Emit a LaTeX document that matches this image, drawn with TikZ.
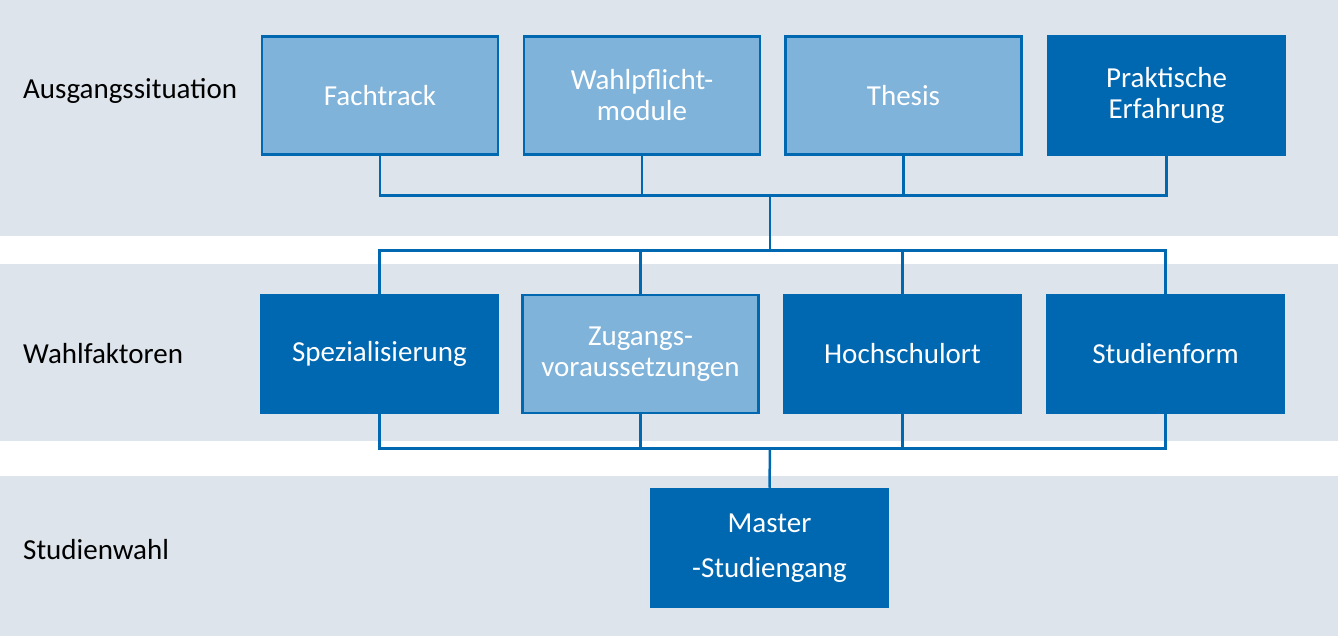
\documentclass[tikz,border=0pt]{standalone}
\usepackage{fontspec}
\setmainfont{Carlito}
\definecolor{dblue}{HTML}{0067B1}
\definecolor{lblue}{HTML}{80B3DA}
\definecolor{band}{HTML}{DDE4EB}
\begin{document}
\begin{tikzpicture}[x=1pt,y=-1pt,
  boxbase/.style={draw=dblue,line width=2.5pt,minimum width=236pt,minimum height=118pt,
    inner sep=0pt,align=center,text=white,font=\fontsize{29}{31}\selectfont},
  lightbox/.style={boxbase,fill=lblue},
  darkbox/.style={boxbase,fill=dblue},
  rowlabel/.style={anchor=west,inner sep=0pt,font=\fontsize{29}{31}\selectfont,text=black},
  conn/.style={draw=dblue,line width=2.5pt}]
\useasboundingbox (0,0) rectangle (1338,636);
\fill[white] (0,0) rectangle (1338,636);
\fill[band] (0,0) rectangle (1338,236);
\fill[band] (0,264) rectangle (1338,441);
\fill[band] (0,476) rectangle (1338,636);
% labels
\node[rowlabel] (l1) at (23,91) {Ausgangssituation};
\node[rowlabel] (l2) at (23,354) {Wahlfaktoren};
\node[rowlabel] (l3) at (23,550) {Studienwahl};
% row 1
\node[lightbox] (fach) at (380,95.5) {Fachtrack};
\node[lightbox] (wahl) at (642,95.5) {Wahlpflicht-\\module};
\node[lightbox] (thes) at (903.5,95.5) {Thesis};
\node[darkbox] (prak) at (1166.5,95.5) {Praktische\\Erfahrung};
% row 2
\node[darkbox] (spez) at (379.5,354) {Spezialisierung};
\node[lightbox] (zug) at (640.5,354) {Zugangs-\\voraussetzungen};
\node[darkbox] (hoch) at (902.5,354) {Hochschulort};
\node[darkbox] (stud) at (1165.5,354) {Studienform};
% row 3
\node[darkbox,font=\fontsize{29}{45}\selectfont] (mast) at (769.5,548) {Master\\-Studiengang};
% junctions
\coordinate (j1) at (770,195.5);
\coordinate (j2) at (770,250.5);
\coordinate (j3) at (770,448.5);
% connectors
\draw[conn] (fach.south) |- (prak.south |- j1) -- (prak.south);
\draw[conn] (wahl.south) -- (wahl.south |- j1);
\draw[conn] (thes.south) -- (thes.south |- j1);
\draw[conn] (j1) -- (j2);
\draw[conn] (spez.north) |- (stud.north |- j2) -- (stud.north);
\draw[conn] (zug.north) -- (zug.north |- j2);
\draw[conn] (hoch.north) -- (hoch.north |- j2);
\draw[conn] (spez.south) |- (stud.south |- j3) -- (stud.south);
\draw[conn] (zug.south) -- (zug.south |- j3);
\draw[conn] (hoch.south) -- (hoch.south |- j3);
\draw[conn] (j3) -- (mast.north);
\end{tikzpicture}
\end{document}
